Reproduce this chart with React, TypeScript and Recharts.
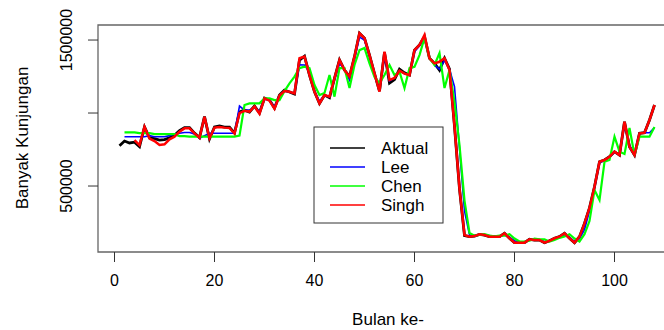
import { Line, LineChart, ReferenceArea, XAxis, YAxis } from 'recharts'

// bulan ke-1 .. ke-108
const months = Array.from({ length: 108 }, (_, i) => i + 1)

const aktual = [
  776000, 808000, 795000, 800000, 770000, 905000, 830000, 825000, 815000, 818000,
  830000, 848000, 880000, 900000, 900000, 862000, 832000, 975000, 822000, 904000,
  911000, 904000, 904000, 863000, 1007000, 1020000, 1007000, 1048000, 1000000, 1103000,
  1089000, 1034000, 1123000, 1157000, 1144000, 1130000, 1363000, 1390000, 1260000, 1146000,
  1066000, 1123000, 1105000, 1238000, 1363000, 1294000, 1249000, 1386000, 1546000, 1512000,
  1397000, 1270000, 1150000, 1415000, 1205000, 1230000, 1300000, 1275000, 1260000, 1431000,
  1466000, 1523000, 1375000, 1340000, 1294000, 1375000, 1300000, 910000, 480000, 160000,
  153000, 157000, 169000, 164000, 153000, 153000, 153000, 176000, 142000, 112000,
  112000, 112000, 135000, 130000, 130000, 112000, 125000, 142000, 153000, 176000,
  142000, 112000, 153000, 244000, 350000, 495000, 666000, 678000, 701000, 735000,
  712000, 940000, 769000, 712000, 861000, 865000, 952000, 1055000,
]

const lee = [
  null, 838000, 838000, 838000, 838000, 838000, 845000, 838000, 838000, 838000,
  845000, 856000, 861000, 867000, 867000, 856000, 827000, 845000, 861000, 861000,
  861000, 861000, 861000, 861000, 1048000, 1020000, 1020000, 1040000, 1010000, 1095000,
  1090000, 1040000, 1120000, 1150000, 1145000, 1135000, 1330000, 1329000, 1280000, 1150000,
  1080000, 1120000, 1110000, 1230000, 1340000, 1300000, 1226000, 1370000, 1520000, 1500000,
  1390000, 1260000, 1160000, 1390000, 1220000, 1240000, 1290000, 1270000, 1265000, 1420000,
  1460000, 1510000, 1380000, 1330000, 1300000, 1360000, 1300000, 1180000, 760000, 330000,
  165000, 160000, 165000, 165000, 160000, 155000, 155000, 165000, 150000, 125000,
  118000, 118000, 130000, 130000, 130000, 120000, 125000, 140000, 150000, 165000,
  150000, 120000, 140000, 200000, 330000, 490000, 660000, 675000, 700000, 730000,
  715000, 920000, 780000, 715000, 860000, 865000, 865000, 900000,
]

const chen = [
  null, 867000, 867000, 867000, 862000, 862000, 862000, 855000, 855000, 855000,
  855000, 855000, 842000, 842000, 838000, 838000, 838000, 838000, 838000, 838000,
  838000, 838000, 838000, 838000, 845000, 1055000, 1066000, 1066000, 1066000, 1100000,
  1100000, 1089000, 1089000, 1150000, 1203000, 1249000, 1308000, 1317000, 1308000, 1192000,
  1123000, 1137000, 1260000, 1112000, 1308000, 1308000, 1171000, 1329000, 1431000, 1445000,
  1340000, 1247000, 1205000, 1260000, 1329000, 1260000, 1283000, 1171000, 1308000, 1317000,
  1397000, 1514000, 1377000, 1329000, 1411000, 1171000, 1294000, 1075000, 781000, 400000,
  178000, 160000, 165000, 170000, 160000, 155000, 160000, 160000, 170000, 140000,
  120000, 120000, 125000, 140000, 135000, 135000, 120000, 130000, 145000, 155000,
  170000, 140000, 120000, 170000, 260000, 473000, 404000, 666000, 678000, 838000,
  735000, 720000, 897000, 712000, 838000, 838000, 838000, 904000,
]

const singh = [
  null, null, null, 815000, 780000, 905000, 825000, 808000, 781000, 786000,
  820000, 838000, 872000, 895000, 895000, 861000, 831000, 975000, 827000, 900000,
  905000, 900000, 898000, 860000, 1000000, 1015000, 1010000, 1045000, 995000, 1100000,
  1085000, 1030000, 1120000, 1150000, 1146000, 1135000, 1375000, 1386000, 1260000, 1146000,
  1066000, 1123000, 1112000, 1238000, 1363000, 1294000, 1249000, 1386000, 1546000, 1512000,
  1397000, 1272000, 1146000, 1420000, 1226000, 1240000, 1290000, 1270000, 1260000, 1431000,
  1466000, 1534000, 1375000, 1340000, 1351000, 1375000, 1294000, 910000, 480000, 164000,
  153000, 157000, 169000, 164000, 153000, 153000, 153000, 176000, 142000, 112000,
  112000, 112000, 135000, 130000, 130000, 112000, 125000, 142000, 153000, 176000,
  142000, 112000, 153000, 244000, 350000, 495000, 666000, 678000, 701000, 735000,
  712000, 940000, 769000, 712000, 861000, 865000, 952000, 1055000,
]

const xTicks = [0, 20, 40, 60, 80, 100]
const yTicks = [500000, 1000000, 1500000]
const yTickLabels = ['500000', '', '1500000']

const seriesNames = ['Aktual', 'Lee', 'Chen', 'Singh']
const seriesColors = ['#000000', '#0000ff', '#00ff00', '#ff0000']

const data = months.map((m, i) => ({
  bulan: m,
  Aktual: aktual[i],
  Lee: lee[i],
  Chen: chen[i],
  Singh: singh[i],
}))

const X_DOMAIN: [number, number] = [-3.3, 112.3]
const Y_DOMAIN: [number, number] = [48000, 1603000]
const FONT = 'Arial, "Liberation Sans", sans-serif'

const XTick = (props: any) => {
  const { x, y, payload } = props
  return (
    <text x={x} y={y + 22} textAnchor="middle" fontSize={16} fontFamily={FONT} fill="#000">
      {payload.value}
    </text>
  )
}

const YTick = (props: any) => {
  const { y, payload } = props
  const idx = yTicks.indexOf(payload.value)
  return (
    <text
      x={72}
      y={y}
      transform={`rotate(-90 72 ${y})`}
      textAnchor="middle"
      fontSize={16}
      fontFamily={FONT}
      fill="#000"
    >
      {yTickLabels[idx]}
    </text>
  )
}

function LegendBox() {
  return (
    <svg width={131} height={98} style={{ position: 'absolute', left: 313, top: 126 }}>
      <rect x={1} y={1} width={129} height={96} fill="#fff" stroke="#333" strokeWidth={1} />
      {seriesNames.map((name, i) => (
        <g key={name}>
          <line x1={17} x2={52} y1={22 + i * 19} y2={22 + i * 19} stroke={seriesColors[i]} strokeWidth={1.3} />
          <text x={68} y={28 + i * 19} fontSize={17} fontFamily={FONT} fill="#000">
            {name}
          </text>
        </g>
      ))}
    </svg>
  )
}

export default function App() {
  return (
    <div
      style={{
        position: 'absolute',
        left: 0,
        top: 0,
        width: 664,
        height: 330,
        overflow: 'hidden',
        background: '#fff',
      }}
    >
      <LineChart width={700} height={330} data={data} margin={{ top: 25, right: 24, bottom: 0, left: 0 }}>
        <XAxis
          dataKey="bulan"
          type="number"
          domain={X_DOMAIN}
          ticks={xTicks}
          allowDataOverflow
          axisLine={false}
          tickSize={10}
          tickLine={{ stroke: '#333' }}
          tick={<XTick />}
          height={78}
          interval={0}
        />
        <YAxis
          type="number"
          domain={Y_DOMAIN}
          ticks={yTicks}
          allowDataOverflow
          axisLine={false}
          tickSize={10}
          tickLine={{ stroke: '#333' }}
          tick={<YTick />}
          width={98}
          interval={0}
        />
        <ReferenceArea
          x1={X_DOMAIN[0]}
          x2={X_DOMAIN[1]}
          y1={Y_DOMAIN[0]}
          y2={Y_DOMAIN[1]}
          fill="none"
          stroke="#666"
          strokeWidth={1.3}
        />
        <Line dataKey="Aktual" stroke="#000000" strokeWidth={2.8} dot={false} isAnimationActive={false} />
        <Line dataKey="Lee" stroke="#0000ff" strokeWidth={1.6} dot={false} isAnimationActive={false} />
        <Line dataKey="Chen" stroke="#00ff00" strokeWidth={2.2} dot={false} isAnimationActive={false} />
        <Line dataKey="Singh" stroke="#ff0000" strokeWidth={2.5} dot={false} isAnimationActive={false} />
      </LineChart>
      <div
        style={{
          position: 'absolute',
          left: 22,
          top: 138,
          transform: 'translate(-50%, -50%) rotate(-90deg)',
          fontFamily: FONT,
          fontSize: 17,
          whiteSpace: 'nowrap',
          lineHeight: 1,
        }}
      >
        Banyak Kunjungan
      </div>
      <div
        style={{
          position: 'absolute',
          left: 388,
          top: 311,
          transform: 'translateX(-50%)',
          fontFamily: FONT,
          fontSize: 17,
          whiteSpace: 'nowrap',
          lineHeight: 1,
        }}
      >
        Bulan ke-
      </div>
      <LegendBox />
    </div>
  )
}
